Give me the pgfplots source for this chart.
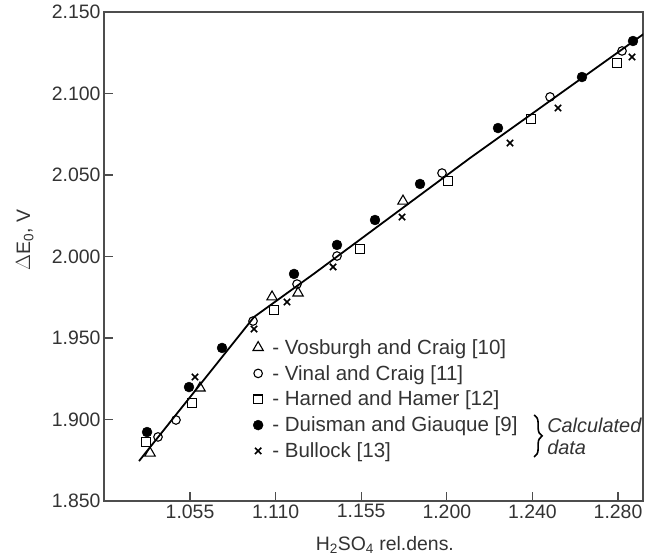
\documentclass[border=0pt]{standalone}
\usepackage{fontspec}
\setmainfont{Liberation Sans}
\usepackage{pgfplots}
\pgfplotsset{compat=1.18}
\usetikzlibrary{decorations.pathreplacing}
\definecolor{axisgray}{HTML}{4D4D4D}
\definecolor{txt}{HTML}{333333}
\begin{document}
\begin{tikzpicture}
\begin{axis}[
  scale only axis, width=539bp, height=489bp,
  xmin=-1.005, xmax=5.292, ymin=1.85, ymax=2.15,
  axis line style={axisgray, line width=1.8bp},
  xtick={0,1,2,3,4,5},
  xticklabels={1.055,1.110,1.155,1.200,1.240,1.280},
  ytick={1.85,1.90,1.95,2.00,2.05,2.10,2.15},
  yticklabels={1.850,1.900,1.950,2.000,2.050,2.100,2.150},
  tick align=inside, major tick length=9bp,
  tick style={axisgray, line width=1.2bp},
  xtick pos=bottom, ytick pos=left,
  ticklabel style={font=\fontsize{19.5}{22}\selectfont, text=txt},
  /pgf/number format/assume math mode=true,
  xlabel={H\textsubscript{2}SO\textsubscript{4} rel.dens.},
  ylabel={$\Delta$E\textsubscript{0}, V},
  label style={font=\fontsize{19.5}{22}\selectfont, text=txt},
  xlabel style={at={(axis description cs:0.521,-0.09)}, anchor=center},
  ylabel style={at={(axis description cs:-0.147,0.534)}, anchor=center, rotate=0},
  legend style={draw=none, fill=none, at={(axis description cs:0.276,0.335)}, anchor=north west,
    font=\fontsize{20.6}{24}\selectfont, text=txt, row sep=5.5bp, inner sep=0pt,
    /tikz/every odd column/.append style={column sep=7bp}},
  legend cell align=left,
]
% fitted line
\addplot[black, line width=1.8bp, forget plot] coordinates {
(-0.596,1.8745) (0.748,1.9629) (1.460,1.9899) (3.271,2.0604) (5.315,2.1371)};
% Vosburgh and Craig
\addplot[only marks, mark=triangle, mark size=6pt, black, mark options={line width=1.1bp, fill=white}] coordinates {
(-0.467,1.8794) (0.117,1.9193) (0.958,1.9752) (1.262,1.9776) (2.488,2.0340)};
\addlegendentry{- Vosburgh and Craig [10]}
% Vinal and Craig
\addplot[only marks, mark=o, mark size=4.3pt, black, mark options={line width=1.1bp, fill=white}] coordinates {
(-0.374,1.8893) (-0.164,1.8997) (0.736,1.9604) (1.250,1.9831) (1.717,2.0003) (2.944,2.0512) (4.206,2.0979) (5.047,2.1261)};
\addlegendentry{- Vinal and Craig [11]}
% Harned and Hamer
\addplot[only marks, mark=square, mark size=4.3pt, black, mark options={line width=1.1bp, fill=white}] coordinates {
(-0.514,1.8862) (0.023,1.9101) (0.981,1.9672) (1.986,2.0046) (3.014,2.0463) (3.984,2.0844) (4.988,2.1187)};
\addlegendentry{- Harned and Hamer [12]}
% Duisman and Giauque
\addplot[only marks, mark=*, mark size=5pt, black] coordinates {
(-0.502,1.8923) (-0.012,1.9199) (0.374,1.9439) (1.215,1.9893) (1.717,2.0071) (2.161,2.0224) (2.687,2.0445) (3.598,2.0788) (4.579,2.1101) (5.175,2.1322)};
\addlegendentry{- Duisman and Giauque [9]}
% Bullock
\addplot[only marks, mark=x, mark size=4.5pt, black, mark options={line width=1.6bp}] coordinates {
(0.058,1.9261) (0.748,1.9555) (1.133,1.9721) (1.671,1.9936) (2.477,2.0242) (3.738,2.0696) (4.299,2.0911) (5.164,2.1224)};
\addlegendentry{- Bullock [13]}
% brace annotation
\draw[decorate, decoration={brace, amplitude=8bp}, line width=1.6bp, black]
  (axis description cs:0.798,0.176) -- (axis description cs:0.798,0.090);
\node[anchor=west, align=left, font=\fontsize{20}{22}\selectfont\itshape, text=txt, inner sep=0pt]
  at (axis description cs:0.822,0.133) {Calculated\\data};
\end{axis}
\pgfresetboundingbox
\path ([xshift=-104bp,yshift=-59bp]current axis.south west) rectangle ([xshift=2bp,yshift=12bp]current axis.north east);
\end{tikzpicture}
\end{document}
